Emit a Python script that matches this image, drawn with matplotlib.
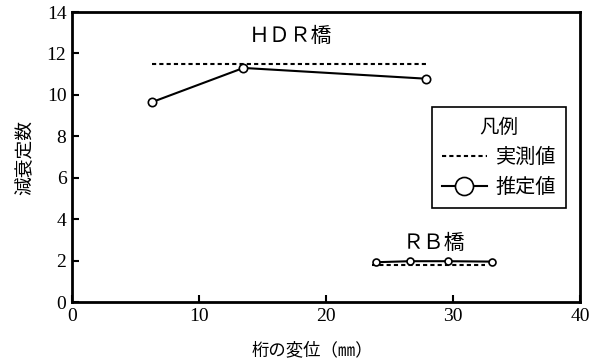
import matplotlib
matplotlib.use("Agg")
import matplotlib.pyplot as plt
from matplotlib.lines import Line2D

plt.rcParams['font.family'] = ['Noto Sans CJK JP', 'DejaVu Sans']

# data
hdr_est_x = [6.3, 13.5, 27.9]
hdr_est_y = [9.65, 11.3, 10.78]
hdr_meas_x = [6.3, 27.9]
hdr_meas_y = [11.5, 11.5]
rb_est_x = [23.9, 26.6, 29.6, 33.1]
rb_est_y = [1.92, 1.97, 1.97, 1.95]
rb_meas_x = [23.6, 32.5]
rb_meas_y = [1.8, 1.8]
xticks = [0, 10, 20, 30, 40]
yticks = [0, 2, 4, 6, 8, 10, 12, 14]

fig = plt.figure(figsize=(5.97, 3.64), dpi=100)
ax = fig.add_axes([0.1206, 0.1703, 0.8509, 0.7967])

dash = (0, (2.0, 1.5))
ax.plot(hdr_meas_x, hdr_meas_y, color='black', lw=1.5, ls=dash)
ax.plot(hdr_est_x, hdr_est_y, color='black', lw=1.5, marker='o', ms=6,
        mfc='white', mec='black', mew=1.2)
ax.plot(rb_meas_x, rb_meas_y, color='black', lw=1.5, ls=dash)
ax.plot(rb_est_x, rb_est_y, color='black', lw=1.5, marker='o', ms=5,
        mfc='white', mec='black', mew=1.2)

ax.text(17.2, 12.85, 'ＨＤＲ橋', fontsize=15, ha='center', va='center')
ax.text(28.5, 2.83, 'ＲＢ橋', fontsize=15, ha='center', va='center')

ax.set_xlim(0, 40)
ax.set_ylim(0, 14)
ax.set_xticks(xticks)
ax.set_yticks(yticks)
for s in ax.spines.values():
    s.set_linewidth(2)
ax.tick_params(direction='in', length=5, width=1.5, labelsize=14, pad=4)
for lab in ax.get_xticklabels() + ax.get_yticklabels():
    lab.set_family(['Liberation Serif'])
ax.set_xlabel('桁の変位（㎜）', fontsize=12.5, labelpad=6)
ax.xaxis.set_label_coords(0.473, -0.135)
ax.set_ylabel('減衰定数', fontsize=13.5, labelpad=8)

handles = [Line2D([], [], color='black', lw=1.5, ls=dash),
           Line2D([], [], color='black', lw=1.5, marker='o', ms=13,
                  mfc='white', mec='black', mew=1.2)]
leg = ax.legend(handles, ['実測値', '推定値'], title='凡例', fontsize=14.5,
                title_fontsize=14, loc='upper left',
                bbox_to_anchor=(0.709, 0.673), fancybox=False,
                edgecolor='black', framealpha=1, handlelength=2.2,
                handletextpad=0.45, borderpad=0.5, labelspacing=0.45,
                borderaxespad=0)
leg.get_frame().set_linewidth(1.2)

fig.savefig('out.png', dpi=100)
